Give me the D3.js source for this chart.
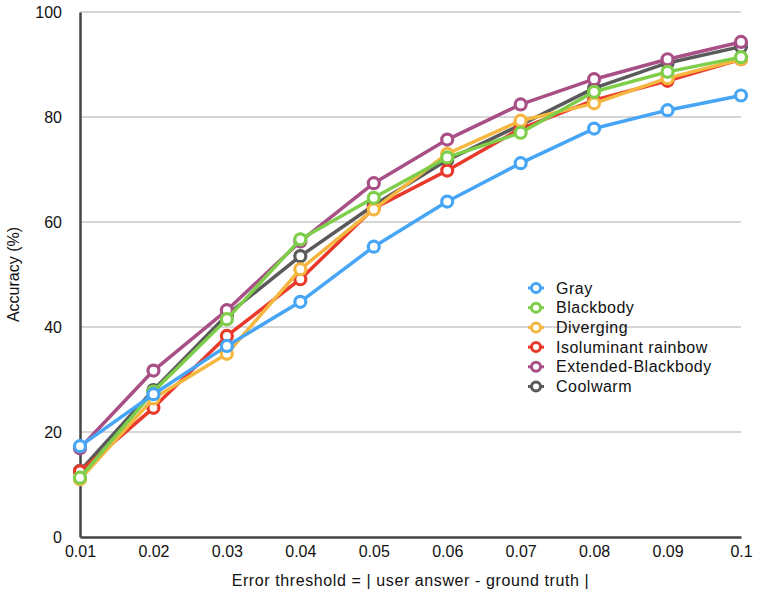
<!DOCTYPE html>
<html>
<head>
<meta charset="utf-8">
<script src="https://cdn.jsdelivr.net/npm/d3@7"></script>
<style>
body { margin: 0; background: #fff; }
svg { font-family: "Liberation Sans", Arial, Helvetica, sans-serif; }
.grid line { stroke: #c8c8c8; stroke-width: 1.5; }
.axis path, .axis line { stroke: #444; }
</style>
</head>
<body>
<svg></svg>
<script>
// error thresholds
var thresholds = [0.01, 0.02, 0.03, 0.04, 0.05, 0.06, 0.07, 0.08, 0.09, 0.1];
var xTickLabels = ["0.01", "0.02", "0.03", "0.04", "0.05", "0.06", "0.07", "0.08", "0.09", "0.1"];
var yTicks = [0, 20, 40, 60, 80, 100];

var seriesNames = ["Gray", "Blackbody", "Diverging", "Isoluminant rainbow", "Extended-Blackbody", "Coolwarm"];
var seriesColors = ["#47a5f5", "#7ece4a", "#f5b73f", "#e8392a", "#a84f86", "#5a5a5a"];

var gray        = [17.3, 27.2, 36.4, 44.8, 55.3, 63.9, 71.2, 77.8, 81.3, 84.1];
var blackbody   = [11.3, 27.7, 41.5, 56.7, 64.6, 72.3, 77.0, 84.8, 88.6, 91.4];
var diverging   = [11.0, 26.4, 34.9, 51.0, 62.4, 73.0, 79.3, 82.6, 87.4, 91.0];
var isoluminant = [12.5, 24.6, 38.3, 49.1, 62.6, 69.8, 77.8, 83.2, 86.9, 91.0];
var extended    = [16.9, 31.7, 43.2, 56.3, 67.4, 75.7, 82.4, 87.2, 91.0, 94.3];
var coolwarm    = [12.6, 28.0, 42.3, 53.5, 63.2, 71.8, 78.5, 85.5, 90.3, 93.4];

var seriesValues = [gray, blackbody, diverging, isoluminant, extended, coolwarm];

var width = 760, height = 602;
var margin = {top: 12, right: 19, bottom: 65, left: 80};

var svg = d3.select("svg")
    .attr("width", width)
    .attr("height", height);

var x = d3.scaleLinear()
    .domain([0.01, 0.1])
    .range([margin.left, width - margin.right]);

var y = d3.scaleLinear()
    .domain([0, 100])
    .range([height - margin.bottom, margin.top]);

// gridlines
svg.append("g")
    .attr("class", "grid")
    .selectAll("line")
    .data(yTicks.filter(function(d) { return d > 0; }))
    .enter().append("line")
    .attr("x1", x(0.01))
    .attr("x2", x(0.1))
    .attr("y1", function(d) { return y(d); })
    .attr("y2", function(d) { return y(d); });

// axes
var yAxis = svg.append("g")
    .attr("class", "axis")
    .attr("transform", "translate(" + x(0.01) + ",0)")
    .call(d3.axisLeft(y).tickValues(yTicks).tickSize(0).tickPadding(18));
yAxis.select(".domain").attr("stroke-width", 2.5);
yAxis.selectAll("text")
    .attr("font-size", 16)
    .attr("fill", "#111");

var xAxis = svg.append("g")
    .attr("class", "axis")
    .attr("transform", "translate(0," + y(0) + ")")
    .call(d3.axisBottom(x).tickValues(thresholds).tickSize(0).tickPadding(9)
        .tickFormat(function(d, i) { return xTickLabels[i]; }));
xAxis.select(".domain").attr("stroke-width", 2.5);
xAxis.selectAll("text")
    .attr("font-size", 16)
    .attr("fill", "#111");

// axis titles
svg.append("text")
    .attr("x", (x(0.01) + x(0.1)) / 2)
    .attr("y", 586)
    .attr("text-anchor", "middle")
    .attr("font-size", 16)
    .attr("letter-spacing", 0.6)
    .attr("fill", "#111")
    .text("Error threshold = | user answer - ground truth |");

svg.append("text")
    .attr("transform", "translate(19," + ((y(0) + y(100)) / 2) + ") rotate(-90)")
    .attr("text-anchor", "middle")
    .attr("font-size", 16)
    .attr("fill", "#111")
    .text("Accuracy (%)");

// series, drawn in reverse order so Gray ends up on top
var series = seriesNames.map(function(name, i) {
    return {
        name: name,
        color: seriesColors[i],
        values: seriesValues[i].map(function(v, j) { return {t: thresholds[j], v: v}; })
    };
});

var line = d3.line()
    .x(function(d) { return x(d.t); })
    .y(function(d) { return y(d.v); });

var groups = svg.selectAll("g.series")
    .data(series.slice().reverse())
    .enter().append("g")
    .attr("class", "series");

groups.append("path")
    .attr("d", function(d) { return line(d.values); })
    .attr("fill", "none")
    .attr("stroke", function(d) { return d.color; })
    .attr("stroke-width", 3.5)
    .attr("stroke-linejoin", "round");

groups.selectAll("circle")
    .data(function(d) { return d.values.map(function(p) { return {t: p.t, v: p.v, color: d.color}; }); })
    .enter().append("circle")
    .attr("cx", function(d) { return x(d.t); })
    .attr("cy", function(d) { return y(d.v); })
    .attr("r", 5.5)
    .attr("fill", "#fff")
    .attr("stroke", function(d) { return d.color; })
    .attr("stroke-width", 3.2);

// legend
var legend = svg.append("g")
    .attr("transform", "translate(536,288)");

var item = legend.selectAll("g")
    .data(series)
    .enter().append("g")
    .attr("transform", function(d, i) { return "translate(0," + (i * 19.7) + ")"; });

item.append("line")
    .attr("x1", -8).attr("x2", 8)
    .attr("stroke", function(d) { return d.color; })
    .attr("stroke-width", 3);

item.append("circle")
    .attr("r", 4.5)
    .attr("fill", "#fff")
    .attr("stroke", function(d) { return d.color; })
    .attr("stroke-width", 3);

item.append("text")
    .attr("x", 20)
    .attr("dy", "0.35em")
    .attr("font-size", 16)
    .attr("letter-spacing", 0.5)
    .attr("fill", "#111")
    .text(function(d) { return d.name; });
</script>
</body>
</html>
